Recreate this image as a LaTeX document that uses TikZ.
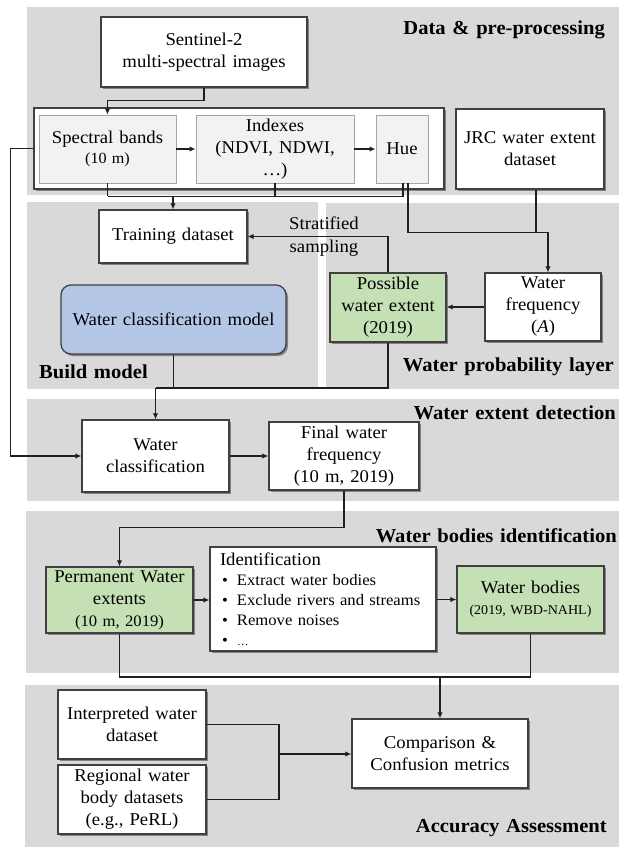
\documentclass[tikz,border=0pt]{standalone}
\usepackage{fontspec}
\setmainfont{Liberation Serif}[WordSpace=1.3,FakeStretch=1.04]
\usetikzlibrary{arrows.meta,shadows}
\definecolor{panel}{HTML}{D9D9D9}
\definecolor{bord}{HTML}{404040}
\definecolor{lnc}{HTML}{1F1F1F}
\definecolor{grn}{HTML}{C5E0B4}
\definecolor{blu}{HTML}{B4C7E7}
\definecolor{innerf}{HTML}{F2F2F2}
\definecolor{innerb}{HTML}{A6A6A6}
\newcommand{\bul}{\makebox[17pt][l]{\hspace{2pt}•}}
\begin{document}
\begin{tikzpicture}[x=1pt,y=-1pt,
  box/.style={draw=bord, fill=white, line width=1.3pt, align=center, inner sep=0pt,
    font=\fontsize{18}{22}\selectfont,
    drop shadow={shadow xshift=2pt,shadow yshift=-2pt,fill=black,opacity=0.4}},
  ibox/.style={draw=innerb, fill=innerf, line width=0.9pt, align=center, inner sep=0pt,
    font=\fontsize{18}{22}\selectfont},
  conn/.style={draw=lnc, line width=1.6pt},
  arr/.style={conn, -{Latex[length=6pt,width=5.5pt]}},
  ttl/.style={font=\bfseries\fontsize{19.8}{24}\selectfont, inner sep=0pt},
  lbl/.style={font=\fontsize{18}{23}\selectfont, align=center, inner sep=0pt}]

\useasboundingbox (0,0) rectangle (619,847);
% panels
\fill[panel] (27,7) rectangle (619,195);
\fill[panel] (27,202) rectangle (318,389);
\fill[panel] (326,203) rectangle (619,389);
\fill[panel] (27,399) rectangle (619,501);
\fill[panel] (26,511) rectangle (619,673);
\fill[panel] (25,685) rectangle (619,847);

% titles
\node[ttl, anchor=east] (t1) at (605,30) {Data \& pre-processing};
\node[ttl, anchor=west] (t2) at (39,372) {Build model};
\node[ttl, anchor=east] (t3) at (614,367) {Water probability layer};
\node[ttl, anchor=east] (t4) at (616,413) {Water extent detection};
\node[ttl, anchor=east] (t5) at (617,536) {Water bodies identification};
\node[ttl, anchor=east] (t6) at (607,828) {Accuracy Assessment};

% data
\node[box, minimum width=206pt, minimum height=70pt] (sentinel) at (204,52) {Sentinel-2\\multi-spectral images};
\node[box, minimum width=410pt, minimum height=81pt] (outer) at (239,148.5) {};
\node[ibox, minimum width=137pt, minimum height=68pt] (spectral) at (107.5,149) {Spectral bands\\[-2pt]{\fontsize{15.5}{18}\selectfont (10 m)}};
\node[ibox, minimum width=158pt, minimum height=68pt] (indexes) at (275,149) {Indexes\\(NDVI, NDWI,\\…)};
\node[ibox, minimum width=52pt, minimum height=68pt] (hue) at (402,149) {Hue};
\node[box, minimum width=148pt, minimum height=80pt] (jrc) at (530,149) {JRC water extent\\dataset};

% build model
\node[box, minimum width=148pt, minimum height=53pt] (training) at (173,236.5) {Training dataset};
\node[box, fill=blu, rounded corners=10pt, minimum width=225pt, minimum height=69pt] (model) at (173.5,319.5) {Water classification model};

% probability layer
\node[box, fill=grn, minimum width=116pt, minimum height=69pt] (possible) at (388,307.5) {Possible\\water extent\\(2019)};
\node[box, minimum width=116pt, minimum height=68pt] (wfreq) at (543,307) {Water\\frequency\\(\textit{A})};
\node[lbl] (strat) at (324,237) {Stratified\\sampling};

% detection
\node[box, minimum width=147pt, minimum height=72pt] (wclass) at (155.5,456) {Water\\classification};
\node[box, minimum width=150pt, minimum height=68pt] (final) at (344,456) {Final water\\frequency\\(10 m, 2019)};

% identification
\node[box, fill=grn, minimum width=147pt, minimum height=66pt] (perm) at (119.5,600) {Permanent Water\\extents\\{\fontsize{16}{20}\selectfont (10 m, 2019)}};
\node[box, text width=206pt, minimum height=104pt, align=left, inner xsep=10pt,
  font=\fontsize{16}{20}\selectfont] (ident) at (323,599) {{\fontsize{18}{20}\selectfont Identification}\\
\bul Extract water bodies\\
\bul Exclude rivers and streams\\
\bul Remove noises\\
\bul {\fontsize{11}{20}\selectfont …}};
\node[box, fill=grn, minimum width=147pt, minimum height=67pt] (wbodies) at (530.5,599.5) {Water bodies\\[-1pt]{\fontsize{13.5}{18}\selectfont (2019, WBD-NAHL)}};

% accuracy
\node[box, minimum width=176pt, minimum height=69pt] (comp) at (440,753.5) {Comparison \&\\Confusion metrics};
\node[box, minimum width=148pt, minimum height=69pt] (interp) at (132,724.5) {Interpreted water\\dataset};
\node[box, minimum width=148pt, minimum height=69pt] (regional) at (132,799.5) {Regional water\\body datasets\\(e.g., PeRL)};

% connectors
\draw[arr] (sentinel.south) -- ++(0,13) -| (spectral.north);
\draw[arr] (spectral) -- (indexes);
\draw[arr] (indexes) -- (hue);
\draw[conn] (spectral.south) -- ++(0,13) coordinate (b1);
\draw[conn] (indexes.south) -- ++(0,13);
\draw[conn] ([xshift=1pt]hue.south) -- ++(0,13) -- (b1);
\draw[arr] (training.north |- b1) -- (training.north);
\draw[arr] ([xshift=6pt]hue.south) -- ++(0,49) -| ([xshift=5pt]wfreq.north);
\draw[conn] ([xshift=6pt]jrc.south) -- ++(0,43);
\draw[arr] (wfreq.west) -- (possible.east |- wfreq.west);
\draw[arr] (possible.north) |- (training.east);
\coordinate (j1) at (155.5,388);
\draw[conn] (model.south) -- (model.south |- j1) -- (j1);
\draw[conn] (possible.south) |- (j1);
\draw[arr] (j1) -- (wclass.north);
\draw[arr] (outer.west) -- ++(-23,0) |- (wclass.west);
\draw[arr] (wclass) -- (final);
\draw[arr] (final.south) -- ++(0,37) -| (perm.north);
\draw[arr] (perm.east) -- (ident.west |- perm.east);
\draw[arr] (ident.east |- wbodies.west) -- (wbodies.west);
\coordinate (j2) at (440,677);
\draw[conn] (perm.south) |- (wbodies.south |- j2) -- (wbodies.south);
\draw[arr] (j2) -- (comp.north);
\coordinate (j3) at (279,754);
\draw[conn] (interp.east) -| (j3) |- (regional.east);
\draw[arr] (j3) -- (comp.west |- j3);
\end{tikzpicture}
\end{document}
